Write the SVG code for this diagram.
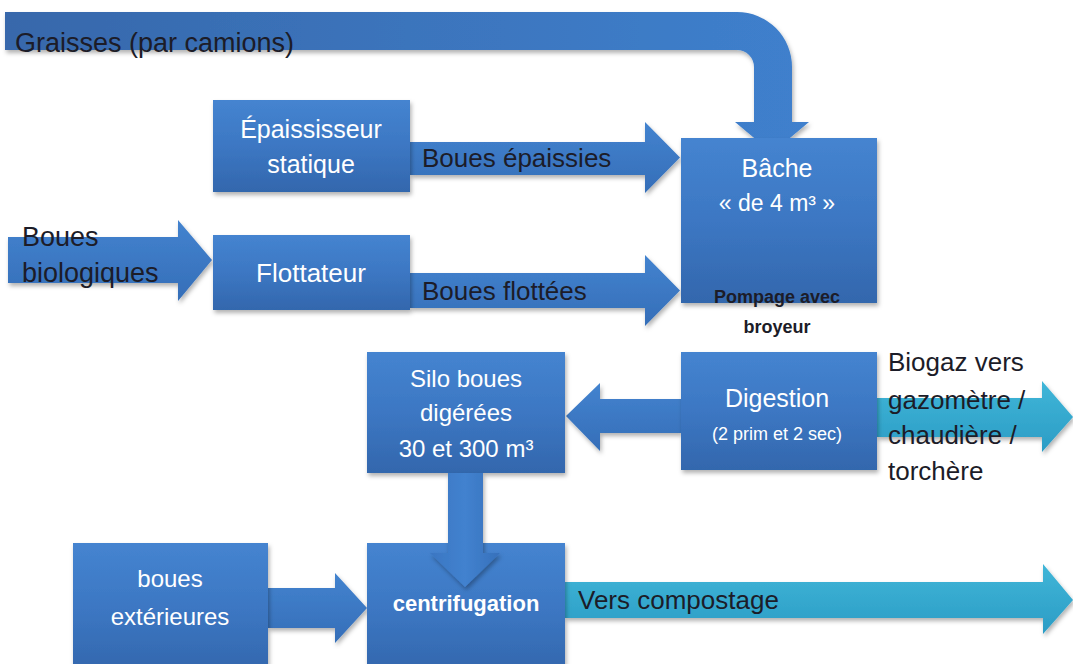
<svg xmlns="http://www.w3.org/2000/svg" width="1073" height="664" viewBox="0 0 1073 664">
<defs>
<linearGradient id="gBox" x1="0" y1="0" x2="0" y2="1">
<stop offset="0" stop-color="#4584d0"/>
<stop offset="0.5" stop-color="#3c77c3"/>
<stop offset="1" stop-color="#3367ad"/>
</linearGradient>
<linearGradient id="gArr" x1="0" y1="0" x2="0" y2="1">
<stop offset="0" stop-color="#4383cf"/>
<stop offset="1" stop-color="#356eb8"/>
</linearGradient>
<linearGradient id="gArrV" x1="0" y1="0" x2="1" y2="0">
<stop offset="0" stop-color="#3a76c2"/>
<stop offset="0.5" stop-color="#4282cf"/>
<stop offset="1" stop-color="#3670bb"/>
</linearGradient>
<linearGradient id="gGr" x1="0" y1="0" x2="1" y2="0">
<stop offset="0" stop-color="#3768ab"/>
<stop offset="1" stop-color="#3f80cd"/>
</linearGradient>
<linearGradient id="gCyan" x1="0" y1="0" x2="0" y2="1">
<stop offset="0" stop-color="#40b6d8"/>
<stop offset="1" stop-color="#2b9cc5"/>
</linearGradient>
<filter id="sh" x="-10%" y="-10%" width="125%" height="130%">
<feDropShadow dx="1.5" dy="3" stdDeviation="2" flood-color="#000" flood-opacity="0.3"/>
</filter>
<style>
.box{fill:url(#gBox);filter:url(#sh)}
.arr{fill:url(#gArr);filter:url(#sh)}
.arrv{fill:url(#gArrV);filter:url(#sh)}
.cy{fill:url(#gCyan);filter:url(#sh)}
.w{font-family:"Liberation Sans",Arial,sans-serif;fill:#ffffff;text-anchor:middle}
.d{font-family:"Liberation Sans",Arial,sans-serif;fill:#1c1c28}
.b{font-family:"Liberation Sans",Arial,sans-serif;fill:#1c1c28;font-weight:bold;text-anchor:middle}
</style>
</defs>
<g id="connectors">
<path d="M5 12 H737 A55 55 0 0 1 792 67 V122 H809 L772 153 L735 122 H754 V67 A17 17 0 0 0 737 50 H5 Z" fill="url(#gGr)" filter="url(#sh)"/>
<path class="arr" d="M8 237 H178 V220 L212 260 L178 301 V283 H8 Z"/>
<path class="arr" d="M410 142 H645 V122 L680 157.5 L645 193 V175 H410 Z"/>
<path class="arr" d="M410 273 H645 V255 L680 290.5 L645 326 V308 H410 Z"/>
<path class="arr" d="M681 399 H600 V383 L566 416 L600 451 V433 H681 Z"/>
<path class="cy" d="M877 398 H1042 V381 L1073 417 L1042 452 V437 H877 Z"/>
<path class="arr" d="M268 588 H335 V573 L367 608 L335 643 V628 H268 Z"/>
<path class="cy" d="M565 582 H1043 V564 L1073 600 L1043 634 V618 H565 Z"/>
</g>
<g id="epaississeur">
<rect class="box" x="213" y="100" width="197" height="92"/>
<text class="w" x="311" y="138" font-size="25">Épaississeur</text>
<text class="w" x="311" y="173" font-size="25">statique</text>
</g>
<g id="flottateur">
<rect class="box" x="213" y="235" width="197" height="75"/>
<text class="w" x="311" y="282" font-size="26">Flottateur</text>
</g>
<g id="bache">
<rect class="box" x="681" y="138" width="196" height="165"/>
<text class="w" x="777" y="177" font-size="25">Bâche</text>
<text class="w" x="777" y="211" font-size="23">« de 4 m³ »</text>
<text class="b" x="777" y="303" font-size="18">Pompage avec</text>
<text class="b" x="777" y="333" font-size="18">broyeur</text>
</g>
<g id="digestion">
<rect class="box" x="681" y="352" width="196" height="118"/>
<text class="w" x="777" y="407" font-size="25">Digestion</text>
<text class="w" x="777" y="440" font-size="18">(2 prim et 2 sec)</text>
</g>
<g id="silo">
<rect class="box" x="367" y="352" width="198" height="121"/>
<text class="w" x="466" y="387" font-size="24">Silo boues</text>
<text class="w" x="466" y="421" font-size="24">digérées</text>
<text class="w" x="466" y="457" font-size="24">30 et 300 m³</text>
</g>
<g id="exterieures">
<rect class="box" x="73" y="543" width="195" height="130"/>
<text class="w" x="170" y="587" font-size="24">boues</text>
<text class="w" x="170" y="625" font-size="24">extérieures</text>
</g>
<g id="centrifugation">
<rect class="box" x="367" y="543" width="198" height="130"/>
<text class="w" x="466" y="611" font-size="22" font-weight="bold">centrifugation</text>
</g>
<g id="connectors-top">
<path class="arrv" d="M448 473 H483 V553 H500 L465 587 L430 553 H448 Z"/>
</g>
<g id="labels">
<text class="d" x="15" y="52" font-size="27">Graisses (par camions)</text>
<text class="d" x="422" y="167" font-size="26">Boues épaissies</text>
<text class="d" x="422" y="300" font-size="26">Boues flottées</text>
<text class="d" x="22" y="246" font-size="27">Boues</text>
<text class="d" x="22" y="282" font-size="27">biologiques</text>
<text class="d" x="888" y="371" font-size="26">Biogaz vers</text>
<text class="d" x="888" y="409" font-size="26">gazomètre /</text>
<text class="d" x="888" y="444" font-size="26">chaudière /</text>
<text class="d" x="888" y="480" font-size="26">torchère</text>
<text class="d" x="578" y="609" font-size="26">Vers compostage</text>
</g>
</svg>
